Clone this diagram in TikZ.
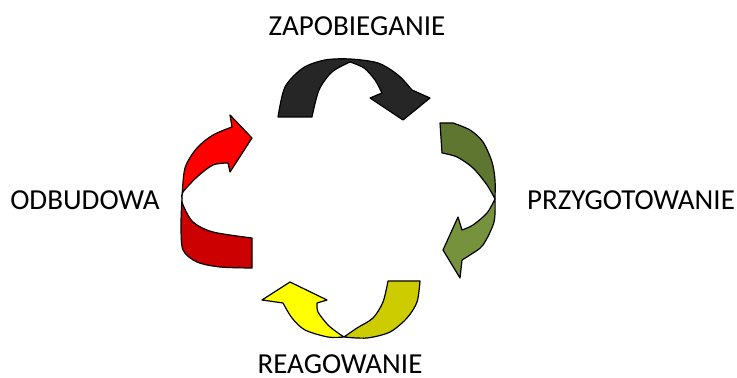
\documentclass[tikz,border=0pt]{standalone}
\usepackage{fontspec}
\setmainfont{Carlito}
\usetikzlibrary{positioning}
\definecolor{cycleblack}{HTML}{262626}
\definecolor{olivedark}{HTML}{5F7630}
\definecolor{olivelight}{HTML}{76923C}
\definecolor{yellowlight}{HTML}{FFFF00}
\definecolor{yellowdark}{HTML}{CCCC00}
\definecolor{redlight}{HTML}{FF0000}
\definecolor{reddark}{HTML}{CC0000}
\begin{document}
\begin{tikzpicture}[x=0.5pt,y=-0.5pt,
      band/.style={draw=black,line width=0.6pt,line join=round},
      phase/.style={font=\fontsize{14.5}{16}\selectfont,inner sep=0pt}]
    \useasboundingbox (0,0) rectangle (737,378);
    % top arrow
    \filldraw[band,fill=cycleblack] (278,117) -- plot[smooth] coordinates {(278,117) (285,87) (303,68) (325,60) (350,59) (378,63) (398,75) (412,90)}
      -- (430,98) -- (403,120) -- (370,98) -- (382,93)
      -- plot[smooth] coordinates {(382,93) (375,80) (364,68) (350,62)}
      -- plot[smooth] coordinates {(350,62) (332,72) (319,90) (312,117)} -- cycle;
    % right arrow
    \filldraw[band,fill=olivedark] (440,123) -- (453,123) -- plot[smooth] coordinates {(453,123) (470,130) (483,142) (492,162) (495,180) (495,199)}
      -- plot[smooth] coordinates {(495,199) (487,185) (473,168) (457,157) (442,153)} -- cycle;
    \filldraw[band,fill=olivelight] (495,199) -- plot[smooth] coordinates {(495,199) (494,222) (483,245) (470,255) (462,260)}
      -- (460,278) -- (443,250) -- (458,217) -- (462,230)
      -- plot[smooth] coordinates {(462,230) (473,225) (487,213) (495,199)} -- cycle;
    % bottom arrow
    \filldraw[band,fill=yellowdark] (388,281) -- (420,281) -- plot[smooth] coordinates {(420,281) (417,302) (407,318) (390,332) (367,338) (344,337)}
      -- plot[smooth] coordinates {(344,337) (357,328) (373,318) (383,302) (388,281)} -- cycle;
    \filldraw[band,fill=yellowlight] (344,337) -- plot[smooth] coordinates {(344,337) (328,337) (305,330) (292,318) (283,303)}
      -- (262,300) -- (290,282) -- (327,300) -- (317,303)
      -- plot[smooth] coordinates {(317,303) (318,312) (328,325) (338,333) (344,337)} -- cycle;
    % left arrow
    \filldraw[band,fill=reddark] (182,198) -- plot[smooth] coordinates {(182,198) (181,225) (183,250) (197,262) (220,267) (252,268)}
      -- (252,238) -- plot[smooth] coordinates {(252,238) (213,232) (193,222) (183,205) (182,198)} -- cycle;
    \filldraw[band,fill=redlight] (182,198) -- plot[smooth] coordinates {(182,198) (185,168) (197,148) (213,135) (232,127)}
      -- (230,115) -- (252,138) -- (230,172) -- (228,163)
      -- plot[smooth] coordinates {(228,163) (213,165) (197,177) (183,192) (182,198)} -- cycle;
    % labels
    \node[phase] (prevent) at (357,26) {ZAPOBIEGANIE};
    \node[phase] (prepare) at (631,200) {PRZYGOTOWANIE};
    \node[phase] (respond) at (340,364) {REAGOWANIE};
    \node[phase] (rebuild) at (85,200) {ODBUDOWA};
  \end{tikzpicture}
\end{document}
